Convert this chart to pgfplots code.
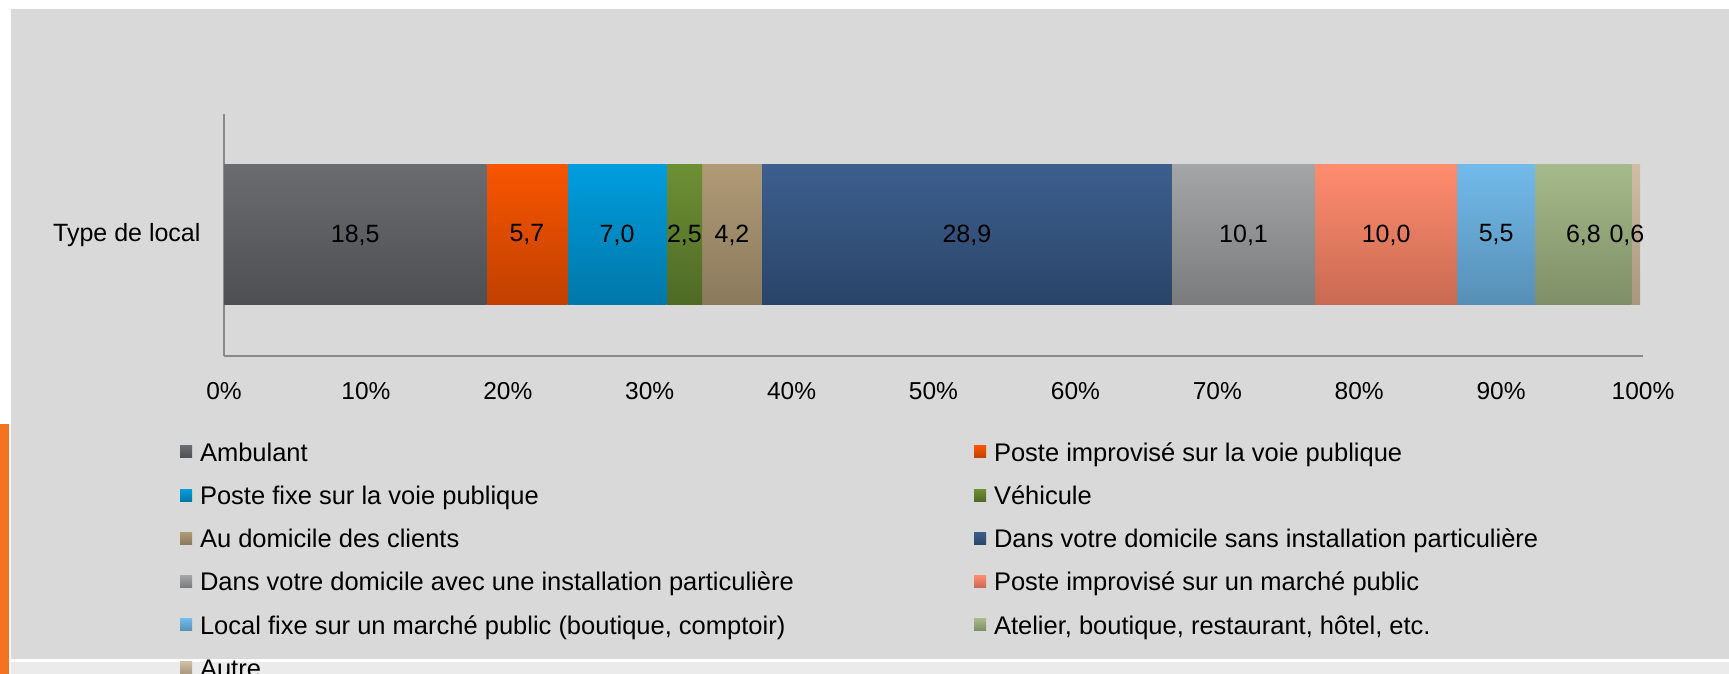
\documentclass[border=0pt]{standalone}
\usepackage{fontspec}
\setmainfont{Liberation Sans}
\usepackage{pgfplots}
\pgfplotsset{compat=1.18}

\definecolor{bgGray}{HTML}{D9D9D9}
\definecolor{stripGray}{HTML}{EBEBEB}
\definecolor{accentOrange}{HTML}{F47321}
\definecolor{axisGray}{HTML}{8A8A8A}
% bar colours: top / bottom of the gradient
\definecolor{ambT}{HTML}{6B6C70}  \definecolor{ambB}{HTML}{4E4F53}
\definecolor{pivT}{HTML}{F85500}  \definecolor{pivB}{HTML}{C04000}
\definecolor{pfvT}{HTML}{009DDE}  \definecolor{pfvB}{HTML}{0077A8}
\definecolor{vehT}{HTML}{6E9034}  \definecolor{vehB}{HTML}{4E6A26}
\definecolor{dclT}{HTML}{B09A76}  \definecolor{dclB}{HTML}{8A7A5C}
\definecolor{dsiT}{HTML}{3C5F8E}  \definecolor{dsiB}{HTML}{2A4468}
\definecolor{daiT}{HTML}{A4A5A7}  \definecolor{daiB}{HTML}{7A7B7D}
\definecolor{pimT}{HTML}{FF8C6E}  \definecolor{pimB}{HTML}{C86A52}
\definecolor{lfmT}{HTML}{72BAEA}  \definecolor{lfmB}{HTML}{568FB5}
\definecolor{ateT}{HTML}{A5BA8A}  \definecolor{ateB}{HTML}{7E8E66}
\definecolor{autT}{HTML}{CFBEA3}  \definecolor{autB}{HTML}{A8977F}

\begin{document}
\begin{tikzpicture}[x=1pt,y=1pt]
  \useasboundingbox (0,0) rectangle (1729,674);
  \clip (0,0) rectangle (1729,674);
  \fill[white] (0,0) rectangle (1729,674);
  \fill[bgGray] (11,15) rectangle (1729,665);
  \fill[stripGray] (11,0) rectangle (1729,12);
  \fill[accentOrange] (0,0) rectangle (9,250);
  \begin{axis}[
    at={(224pt,318pt)}, anchor=south west,
    scale only axis, width=1419pt, height=242pt,
    xbar stacked, bar width=140pt,
    xmin=0, xmax=100, ymin=-1, ymax=1, enlargelimits=false,
    axis x line*=bottom, axis y line*=left,
    axis line style={draw=axisGray, line width=1.5pt, -},
    xtick={0,10,...,100},
    xticklabel={\pgfmathprintnumber{\tick}\%},
    ytick={0}, yticklabels={Type de local},
    major tick length=0pt,
    tick label style={font=\fontsize{24.5}{28}\selectfont},
    xticklabel style={yshift=-23pt},
    yticklabel style={xshift=-20pt, font=\fontsize{25}{28}\selectfont},
    /pgf/number format/assume math mode=true,
    point meta=explicit,
    nodes near coords={\pgfmathprintnumber[fixed,fixed zerofill,precision=1,use comma]{\pgfplotspointmeta}},
    nodes near coords style={font=\fontsize{25}{30}\selectfont, black},
    legend columns=2,
    legend cell align=left,
    legend image code/.code={\fill[#1] (0pt,-3pt) rectangle (12pt,9pt);},
    legend style={
      at={(-0.031,-0.361)}, anchor=north west,
      draw=none, fill=none, inner sep=0pt, outer sep=0pt,
      font=\fontsize{25.5}{30}\selectfont,
      nodes={inner sep=0pt, text height=18pt, text depth=5pt},
      row sep=20.2pt,
      /tikz/every odd column/.append style={column sep=8pt},
      /tikz/every even column/.append style={column sep=23pt},
    },
  ]
    \addplot[draw=none, top color=ambT, bottom color=ambB] coordinates {(18.5,0) [18.5]};
    \addlegendentry{\makebox[751pt][l]{Ambulant}}
    \addplot[draw=none, top color=pivT, bottom color=pivB] coordinates {(5.7,0) [5.7]};
    \addlegendentry{Poste improvisé sur la voie publique}
    \addplot[draw=none, top color=pfvT, bottom color=pfvB] coordinates {(7.0,0) [7.0]};
    \addlegendentry{\makebox[751pt][l]{Poste fixe sur la voie publique}}
    \addplot[draw=none, top color=vehT, bottom color=vehB] coordinates {(2.5,0) [2.5]};
    \addlegendentry{Véhicule}
    \addplot[draw=none, top color=dclT, bottom color=dclB] coordinates {(4.2,0) [4.2]};
    \addlegendentry{\makebox[751pt][l]{Au domicile des clients}}
    \addplot[draw=none, top color=dsiT, bottom color=dsiB] coordinates {(28.9,0) [28.9]};
    \addlegendentry{Dans votre domicile sans installation particulière}
    \addplot[draw=none, top color=daiT, bottom color=daiB] coordinates {(10.1,0) [10.1]};
    \addlegendentry{\makebox[751pt][l]{Dans votre domicile avec une installation particulière}}
    \addplot[draw=none, top color=pimT, bottom color=pimB] coordinates {(10.0,0) [10.0]};
    \addlegendentry{Poste improvisé sur un marché public}
    \addplot[draw=none, top color=lfmT, bottom color=lfmB] coordinates {(5.5,0) [5.5]};
    \addlegendentry{\makebox[751pt][l]{Local fixe sur un marché public (boutique, comptoir)}}
    \addplot[draw=none, top color=ateT, bottom color=ateB] coordinates {(6.8,0) [6.8]};
    \addlegendentry{Atelier, boutique, restaurant, hôtel, etc.}
    \addplot[draw=none, top color=autT, bottom color=autB,
      every node near coord/.append style={xshift=-9pt}] coordinates {(0.6,0) [0.6]};
    \addlegendentry{\makebox[751pt][l]{Autre}}
  \end{axis}
\end{tikzpicture}
\end{document}
